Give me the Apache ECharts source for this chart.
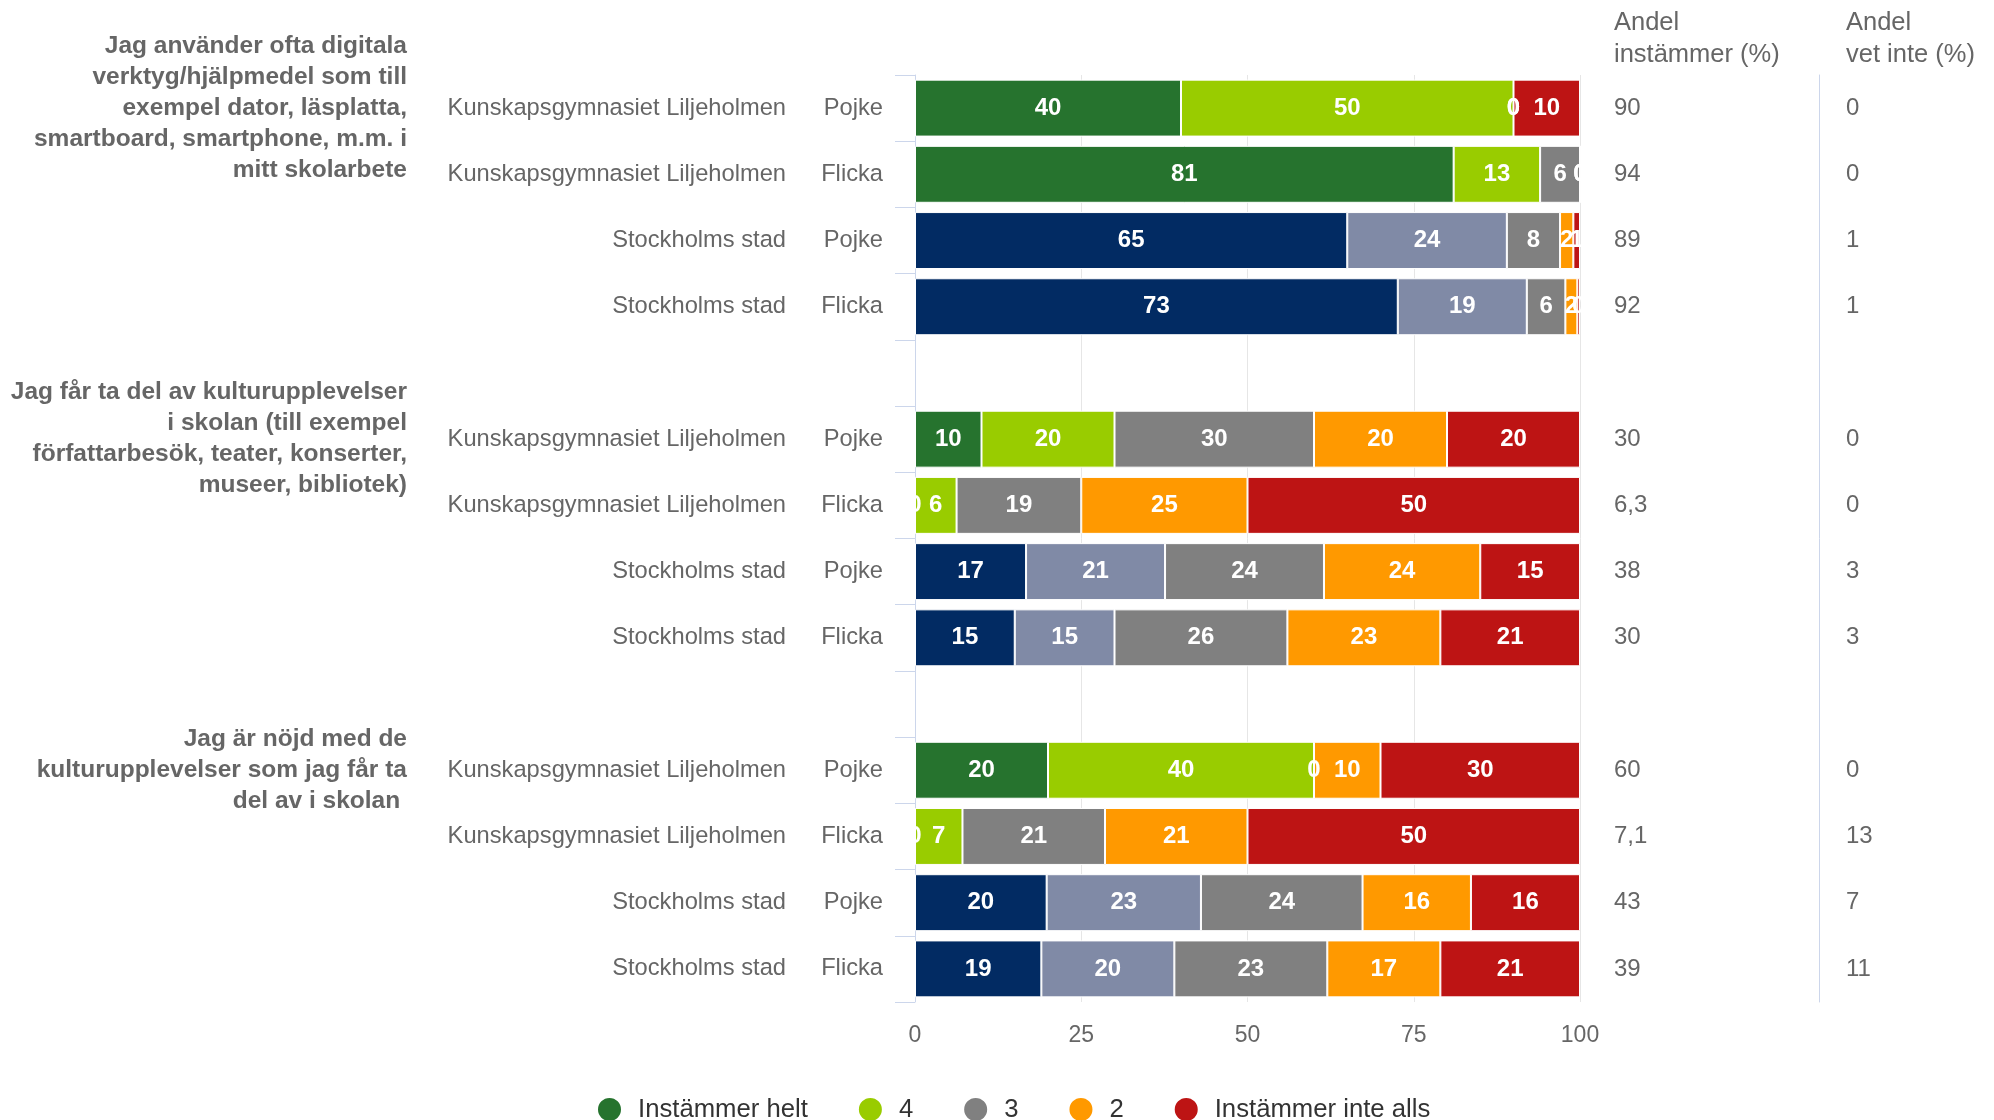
<!DOCTYPE html>
<html>
  <head>
    <meta charset="utf-8">
    <title>Enkät - kultur och digitala verktyg</title>
    <script src="https://cdn.jsdelivr.net/npm/echarts@6/dist/echarts.min.js" charset="utf-8"></script>
    <style media="screen">
      body{
        margin: 0;
        background: #fff;
      }
      #main{
        width: 1994px;
        height: 1120px;
      }
    </style>
  </head>
  <body>
    <div id="main"></div>
    <script type="text/javascript">
      // rader: 4 per fråga, tom rad mellan frågorna
      var rowTitle = [
        'Jag använder ofta digitala\nverktyg/hjälpmedel som till\nexempel dator, läsplatta,\nsmartboard, smartphone, m.m. i\nmitt skolarbete', '', '', '', '',
        'Jag får ta del av kulturupplevelser\ni skolan (till exempel\nförfattarbesök, teater, konserter,\nmuseer, bibliotek)', '', '', '', '',
        'Jag är nöjd med de\nkulturupplevelser som jag får ta\ndel av i skolan ', '', '', ''
      ];
      var rowSchool = [
        'Kunskapsgymnasiet Liljeholmen', 'Kunskapsgymnasiet Liljeholmen', 'Stockholms stad', 'Stockholms stad', '',
        'Kunskapsgymnasiet Liljeholmen', 'Kunskapsgymnasiet Liljeholmen', 'Stockholms stad', 'Stockholms stad', '',
        'Kunskapsgymnasiet Liljeholmen', 'Kunskapsgymnasiet Liljeholmen', 'Stockholms stad', 'Stockholms stad'
      ];
      var rowGender = ['Pojke', 'Flicka', 'Pojke', 'Flicka', '', 'Pojke', 'Flicka', 'Pojke', 'Flicka', '', 'Pojke', 'Flicka', 'Pojke', 'Flicka'];

      var seriesNames = ['Instämmer helt', '4', '3', '2', 'Instämmer inte alls'];
      var helt = [40, 81, 65, 72.6, null, 10, 0, 16.7, 15, null, 20, 0, 19.8, 19];
      var fyra = [50, 13, 24, 19.4, null, 20, 6.25, 20.9, 15, null, 40, 7.14, 23.2, 20];
      var tre = [0, 6, 8, 5.8, null, 30, 18.75, 23.9, 26, null, 0, 21.43, 24.3, 23];
      var tva = [0, 0, 2, 1.8, null, 20, 25, 23.5, 23, null, 10, 21.43, 16.3, 17];
      var inteAlls = [10, 0, 1, 0.4, null, 20, 50, 15, 21, null, 30, 50, 16.4, 21];

      var andelInstammer = ['90', '94', '89', '92', '', '30', '6,3', '38', '30', '', '60', '7,1', '43', '39'];
      var andelVetInte = ['0', '0', '1', '1', '', '0', '0', '3', '3', '', '0', '13', '7', '11'];

      var xTicks = [0, 25, 50, 75, 100];

      var colors = ['#26732e', '#99cc00', '#808080', '#ff9900', '#bd1414'];
      var stadColors = ['#022b63', '#808aa6']; // Stockholms stad har egna färger på de två första

      var rowIdx = rowGender.map(function (g, i) { return String(i); });
      var font = '"Liberation Sans", Arial, Helvetica, sans-serif';

      var myChart = echarts.init(document.getElementById('main'));

      var allData = [helt, fyra, tre, tva, inteAlls];
      var series = [];
      for (var s = 0; s < allData.length; s++) {
        var data = [];
        for (var i = 0; i < allData[s].length; i++) {
          var item = { value: allData[s][i] };
          if (s < 2 && rowSchool[i] == 'Stockholms stad') {
            item.itemStyle = { color: stadColors[s] };
          }
          data.push(item);
        }
        series.push({
          name: seriesNames[s],
          type: 'bar',
          stack: 'total',
          barCategoryGap: '14%',
          itemStyle: {
            color: colors[s],
            borderColor: '#fff',
            borderWidth: 1
          },
          label: {
            show: true,
            position: 'inside',
            color: '#fff',
            fontWeight: 'bold',
            fontSize: 24,
            fontFamily: font,
            formatter: function (p) {
              return p.value == null ? '' : String(Math.round(p.value));
            }
          },
          data: data
        });
      }

      var option = {
        animation: false,
        textStyle: { fontFamily: font },
        color: colors,
        grid: {
          left: 915,
          right: 414,
          top: 75,
          bottom: 118,
          containLabel: false,
          outerBoundsMode: 'none'
        },
        legend: {
          data: seriesNames,
          left: 596,
          top: 1096,
          padding: 0,
          icon: 'circle',
          itemWidth: 25,
          itemHeight: 25,
          itemGap: 49,
          textStyle: {
            fontSize: 25.7,
            color: '#333',
            fontFamily: font,
            padding: [0, 0, 0, 11]
          }
        },
        xAxis: {
          type: 'value',
          min: 0,
          max: 100,
          interval: 25,
          axisLine: { show: false },
          axisTick: { show: false },
          splitLine: { lineStyle: { color: '#e6e6e6', width: 1 } },
          axisLabel: {
            margin: 22,
            fontSize: 23,
            color: '#666',
            formatter: function (v) { return xTicks.indexOf(v) >= 0 ? String(v) : ''; }
          }
        },
        yAxis: [
          {
            type: 'category',
            inverse: true,
            position: 'left',
            data: rowIdx,
            axisLine: { show: true, lineStyle: { color: '#ccd6eb', width: 1 } },
            axisTick: { show: true, inside: false, length: 20, lineStyle: { color: '#ccd6eb', width: 1 } },
            axisLabel: {
              margin: 32,
              fontSize: 23.7,
              color: '#666',
              formatter: function (v, i) { return rowGender[i]; }
            }
          },
          {
            type: 'category',
            inverse: true,
            position: 'left',
            data: rowIdx,
            axisLine: { show: false },
            axisTick: { show: false },
            axisLabel: {
              margin: 129,
              fontSize: 23.7,
              color: '#666',
              formatter: function (v, i) { return rowSchool[i]; }
            }
          },
          {
            type: 'category',
            inverse: true,
            position: 'left',
            data: rowIdx,
            axisLine: { show: false },
            axisTick: { show: false },
            axisLabel: {
              margin: 508,
              fontSize: 24.5,
              lineHeight: 31,
              fontWeight: 'bold',
              color: '#666',
              padding: [3, 0, 0, 0],
              formatter: function (v, i) { return rowTitle[i]; }
            }
          },
          {
            type: 'category',
            inverse: true,
            position: 'right',
            offset: 34,
            data: rowIdx,
            axisLine: { show: false },
            axisTick: { show: false },
            axisLabel: {
              margin: 0,
              fontSize: 24,
              color: '#666',
              formatter: function (v, i) { return andelInstammer[i]; }
            },
            name: 'Andel\ninstämmer (%)',
            nameLocation: 'start',
            nameGap: 4,
            nameTextStyle: {
              align: 'left',
              verticalAlign: 'bottom',
              fontSize: 25.5,
              lineHeight: 32,
              color: '#666'
            }
          },
          {
            type: 'category',
            inverse: true,
            position: 'right',
            offset: 239,
            data: rowIdx,
            axisLine: { show: true, lineStyle: { color: '#ccd6eb' } },
            axisTick: { show: false },
            axisLabel: {
              margin: 27,
              fontSize: 24,
              color: '#666',
              formatter: function (v, i) { return andelVetInte[i]; }
            },
            name: 'Andel\nvet inte (%)',
            nameLocation: 'start',
            nameGap: 4,
            nameTextStyle: {
              align: 'left',
              verticalAlign: 'bottom',
              fontSize: 25.5,
              lineHeight: 32,
              color: '#666',
              padding: [0, 0, 0, 27]
            }
          }
        ],
        series: series
      };
      myChart.setOption(option);
    </script>
  </body>
</html>
